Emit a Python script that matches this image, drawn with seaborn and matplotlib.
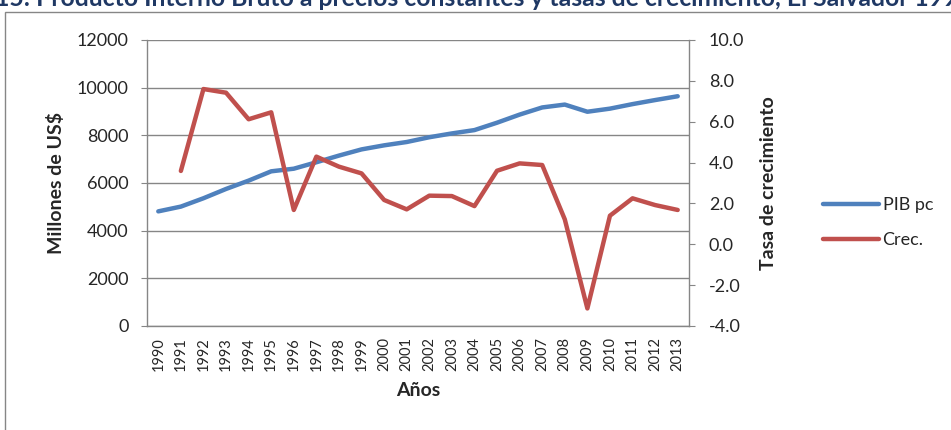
import numpy as np
import pandas as pd
import matplotlib
matplotlib.use('Agg')
import matplotlib.pyplot as plt
from matplotlib.patches import Rectangle
from matplotlib.lines import Line2D
import seaborn as sns

# ── Data ──────────────────────────────────────
years = list(range(1990, 2014))
pib_pc = [4810, 5010, 5360, 5750, 6100, 6490, 6600, 6870, 7150, 7410,
          7580, 7720, 7920, 8080, 8220, 8530, 8870, 9170, 9290, 8990,
          9120, 9310, 9480, 9640]
crec_years = list(range(1991, 2014))
crec = [3.59, 7.60, 7.42, 6.12, 6.46, 1.68, 4.29, 3.80, 3.47, 2.17,
        1.71, 2.38, 2.36, 1.87, 3.60, 3.96, 3.88, 1.22, -3.14, 1.40,
        2.25, 1.92, 1.68]

title_prefix = "Gráfico 1"
title = ("5: Producto Interno Bruto a precios constantes y tasas de "
         "crecimiento, El Salvador 1990-2013")

df_pib = pd.DataFrame({'Año': years, 'PIB pc': pib_pc})
df_crec = pd.DataFrame({'Año': crec_years, 'Crec.': crec})

# ── Style ─────────────────────────────────────
sns.set_style('white')
plt.rcParams['font.family'] = ['Lato', 'DejaVu Sans']

BLUE = '#4F81BD'
RED = '#C0504D'
GRID = '#868686'
W, H = 951, 430

fig = plt.figure(figsize=(9.51, 4.30), dpi=100)
ax = fig.add_axes([147/W, 1-326/H, (689-147)/W, (326-40)/H])
ax2 = ax.twinx()

sns.lineplot(data=df_pib, x='Año', y='PIB pc', ax=ax, color=BLUE,
             linewidth=3.2, solid_capstyle='round')
sns.lineplot(data=df_crec, x='Año', y='Crec.', ax=ax2, color=RED,
             linewidth=3.2, solid_capstyle='round')

# ── Left axis ─────────────────────────────────
ax.set_ylim(0, 12000)
ax.set_yticks(range(0, 12001, 2000))
ax.yaxis.grid(True, color=GRID, linewidth=1)
ax.set_axisbelow(True)
ax.set_ylabel('Millones de US$', fontsize=14, fontweight='bold')
ax.yaxis.set_label_coords((56-147)/542, 0.5)
ax.yaxis.label.set_va('center')

# ── Right axis ────────────────────────────────
ax2.set_ylim(-4, 10)
ticks2 = np.arange(-4, 10.1, 2)
ax2.set_yticks(ticks2)
ax2.set_yticklabels([f'{v:.1f}' for v in ticks2])
ax2.set_ylabel('Tasa de crecimiento', fontsize=14, fontweight='bold')
ax2.yaxis.set_label_coords((769-147)/542, 0.5)
ax2.yaxis.label.set_va('center')

# ── X axis ────────────────────────────────────
ax.set_xlim(1989.5, 2013.5)
ax.set_xticks(years)
ax.set_xticklabels([str(y) for y in years], rotation=90, fontsize=10.5)
ax.set_xticks(np.arange(1989.5, 2014, 1), minor=True)
ax.tick_params(axis='x', which='major', length=0, pad=8)
ax.tick_params(axis='x', which='minor', length=4.3, color=GRID,
               direction='out')
ax.set_xlabel('Años', fontsize=14, fontweight='bold')
ax.xaxis.set_label_coords(0.5, -(390-326)/286)
ax.xaxis.label.set_va('center')

ax.tick_params(axis='y', length=4.3, color=GRID, direction='out',
               labelsize=13, left=True, pad=9)
ax2.tick_params(axis='y', length=4.3, color=GRID, direction='out',
                labelsize=13, right=True, pad=10)

for a in (ax, ax2):
    for s in a.spines.values():
        s.set_color(GRID)
        s.set_linewidth(1)
ax.spines['top'].set_visible(False)
ax2.spines['top'].set_visible(False)
ax.spines['right'].set_visible(False)
ax2.spines['left'].set_visible(False)
ax2.spines['bottom'].set_visible(False)

for a in (ax, ax2):
    if a.get_legend():
        a.get_legend().remove()

# ── Legend ────────────────────────────────────
handles = [Line2D([], [], color=BLUE, lw=3.2, solid_capstyle='round'),
           Line2D([], [], color=RED, lw=3.2, solid_capstyle='round')]
fig.legend(handles, ['PIB pc', 'Crec.'], loc='center left',
           bbox_to_anchor=(823/W, 1-222.5/H), frameon=False,
           fontsize=13, handlelength=3.1, handletextpad=0.2,
           labelspacing=1.05, borderpad=0, borderaxespad=0)

# ── Chart-area border and clipped title ───────
fig.patches.append(Rectangle((5/W, -0.2), 1.2, 1.2 - 12/H,
                             transform=fig.transFigure, fill=False,
                             edgecolor=GRID, linewidth=1))

renderer = fig.canvas.get_renderer()
tmp = fig.text(0, 0, title_prefix, fontsize=17.8, fontweight='bold')
pw = tmp.get_window_extent(renderer).width
tmp.remove()
fig.text((9 - pw) / W, 1-6/H, title_prefix + title, ha='left',
         va='baseline', fontsize=17.8, fontweight='bold', color='#1F3864')

fig.savefig('out.png', dpi=100)
